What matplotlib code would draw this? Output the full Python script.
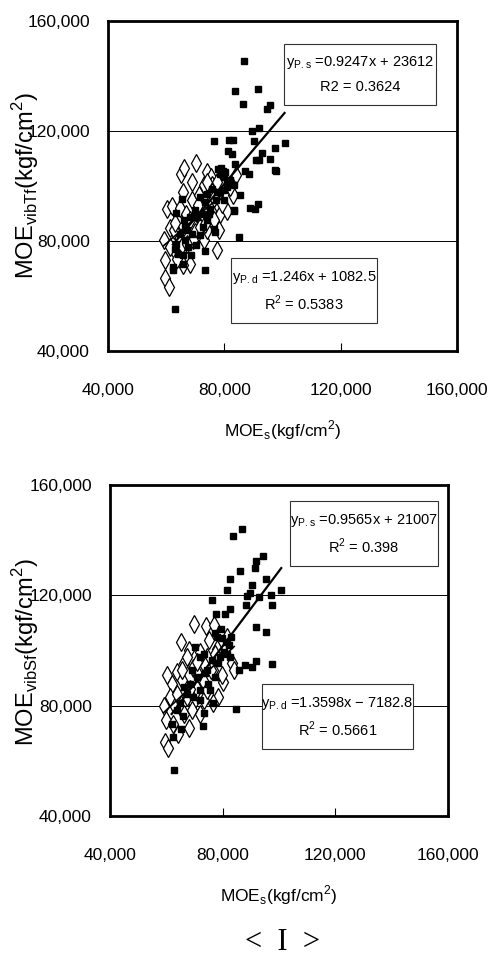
import matplotlib.pyplot as plt
from matplotlib.patches import Rectangle

# ---- datos: MOE estático (x) vs MOE vibración (y), kgf/cm2 ----
# gráfico superior (MOE vibTf)
tf_s_x = [70300, 65100, 66200, 68800, 74000, 75300, 75900, 65900, 68900, 71400,
          73100, 60300, 62100, 64900, 66700, 68100, 70600, 72100, 74600, 78000,
          78600, 80900, 82900, 84000, 82100, 61400, 59100, 59600, 59700, 60900,
          62600, 65400, 68300, 65800, 67400, 70000, 72900, 77500, 78000, 74000,
          76300, 71700, 69200, 64100, 62600, 61400, 63700, 79200, 75800, 77500,
          74000, 63000, 67000, 70800, 73500, 76500]
tf_s_y = [108200, 104500, 106600, 101500, 105100, 103300, 100200, 97800, 94800, 96600,
          100200, 91800, 92700, 92100, 89900, 87500, 89900, 88100, 93600, 92400,
          89900, 90900, 96600, 103900, 99600, 84600, 80300, 73000, 66700, 63300,
          76600, 78400, 71800, 71200, 81500, 83300, 80300, 76600, 83900, 83900,
          87500, 85100, 80300, 82100, 83900, 77800, 73600, 93600, 97800, 101500,
          101500, 86500, 79000, 93000, 86000, 95500]

tf_d_x = [86800, 83800, 91600, 86300, 95800, 94700, 89600, 91900, 76400, 81700,
          82900, 90300, 100700, 97300, 81300, 82600, 92900, 91000, 91900, 95600,
          83700, 77900, 78900, 79700, 80300, 87200, 88400, 97500, 97900, 80900,
          85500, 88700, 90400, 91700, 83200, 85000, 65400, 63500, 73200, 73300,
          63100, 62300, 66000, 67200, 68900, 70600, 72300, 74000, 75800, 77200,
          78600, 79800, 71500, 69800, 68100, 66400, 64600, 62900, 64100, 65800,
          68600, 65700, 62500, 74000, 76300, 76900, 71700, 73500, 75200, 77500,
          79800, 80900, 82100, 83200, 78600, 74600, 66400, 63500, 67500, 70400,
          72700, 79800, 83200]
tf_d_y = [145500, 134500, 135200, 129700, 129600, 127900, 120100, 121200, 116500, 116700,
          116900, 116500, 115800, 113900, 112700, 111500, 112100, 109600, 109300, 109700,
          107900, 106300, 106600, 105300, 105100, 105500, 104500, 105900, 105600, 101500,
          96600, 92000, 91500, 93300, 91000, 81300, 95300, 90200, 76400, 69300,
          55400, 69300, 87500, 83900, 82700, 88700, 89900, 97200, 99000, 94800,
          104500, 103300, 96000, 91200, 88700, 85100, 82700, 77200, 75400, 74800,
          74800, 71800, 70600, 87500, 84500, 83300, 82100, 94200, 91800, 97800,
          98400, 99600, 102100, 100200, 97800, 89900, 80300, 79000, 77800, 78400,
          85100, 94800, 91200]

# gráfico inferior (MOE vibSf)
sf_s_x = [70000, 74000, 77100, 65100, 75300, 68100, 66100, 72000, 77900, 81500,
          83200, 80000, 76700, 74300, 60100, 61900, 63700, 65500, 69600, 70800,
          73200, 75900, 78500, 76700, 73200, 69600, 67200, 62500, 61300, 59000,
          59800, 59500, 60500, 62500, 64300, 68100, 66100, 69000, 72000, 74300,
          79700, 84100, 77300, 67200, 65500, 68400, 63700, 70800, 71000, 73800]
sf_s_y = [109600, 108800, 109200, 103100, 103700, 100100, 95300, 99500, 100700, 105000,
          95300, 88600, 92900, 97700, 91000, 88000, 92300, 89200, 93500, 86200,
          88600, 92900, 83200, 80800, 82000, 80800, 83200, 80800, 83200, 80000,
          74700, 66900, 64700, 73500, 69900, 71900, 77100, 78300, 77100, 85600,
          91000, 92900, 98900, 97700, 92900, 86200, 84400, 91700, 95800, 94500]

sf_d_x = [86700, 83800, 94400, 91900, 91600, 86200, 82600, 95300, 90400, 100800,
          81600, 89700, 92800, 97100, 88600, 76200, 97500, 88300, 82600, 81000,
          77700, 91900, 95400, 79300, 77300, 78100, 79700, 81100, 82200, 83100,
          91800, 97400, 87900, 90300, 85700, 84700, 72900, 73400, 65800, 62700,
          62500, 65200, 61900, 76700, 72000, 81500, 79100, 74300, 77300, 74900,
          70800, 68400, 66100, 67200, 69600, 72000, 64900, 63700, 72000, 73200,
          76100, 80300, 82600, 73800, 70200, 78500, 75500, 69000]
sf_d_y = [143900, 141600, 134400, 132500, 130000, 128800, 125800, 125800, 123700, 122100,
          122100, 120900, 119500, 120200, 119700, 118400, 116600, 116600, 114900, 113100,
          113400, 108600, 106700, 107900, 106200, 105000, 104400, 103100, 102100, 105000,
          96200, 95200, 94700, 94100, 92900, 78700, 72500, 77400, 76200, 56600,
          68700, 71500, 73500, 80800, 82000, 98900, 97700, 92900, 90400, 88000,
          90400, 88000, 86800, 84400, 83200, 85600, 80800, 78300, 97700, 98900,
          96500, 99500, 97700, 91700, 101300, 95300, 85600, 92900]

# ecuaciones de ajuste
tf_s_fit = (0.9247, 23612)
tf_d_fit = (1.246, 1082.5)
sf_s_fit = (0.9565, 21007)
sf_d_fit = (1.3598, -7182.8)

ticks = [40000, 80000, 120000, 160000]
tick_labels = ['40,000', '80,000', '120,000', '160,000']

font = 'Liberation Sans'

fig = plt.figure(figsize=(4.93, 9.58), dpi=100)


def panel(rect, s_x, s_y, d_x, d_y, s_fit, d_fit, txt_s, txt_d, box_s, box_d):
    ax = fig.add_axes(rect)
    ax.set_xlim(40000, 160000)
    ax.set_ylim(40000, 160000)
    for y in ticks[1:-1]:
        ax.axhline(y, color='black', lw=0.7, zorder=1)

    ax.plot(s_x, s_y, linestyle='none', marker='d', ms=9, mfc='white',
            mec='black', mew=0.9, zorder=2)
    ax.plot(d_x, d_y, linestyle='none', marker='s', ms=4, mfc='black',
            mec='black', zorder=3)

    # rectas de regresión sobre el rango de cada serie
    xs = [min(s_x), max(s_x)]
    ax.plot(xs, [s_fit[0] * v + s_fit[1] for v in xs], color='black', lw=1.2, zorder=4)
    xd = [min(d_x), max(d_x)]
    ax.plot(xd, [d_fit[0] * v + d_fit[1] for v in xd], color='black', lw=1.6, zorder=4)

    for (x0, y0, x1, y1), lines in ((box_s, txt_s), (box_d, txt_d)):
        ax.add_patch(Rectangle((x0, y0), x1 - x0, y1 - y0, transform=ax.transAxes,
                               facecolor='white', edgecolor='#333333', lw=0.8, zorder=5))
        ax.text((x0 + x1) / 2, y0 + (y1 - y0) * 0.70, lines[0], transform=ax.transAxes,
                ha='center', va='center', fontsize=10.5, family=font, zorder=6)
        ax.text((x0 + x1) / 2, y0 + (y1 - y0) * 0.30, lines[1], transform=ax.transAxes,
                ha='center', va='center', fontsize=10.5, family=font, zorder=6)

    ax.set_xticks(ticks)
    ax.set_xticklabels(tick_labels, family=font, fontsize=12.5)
    ax.set_yticks(ticks)
    ax.set_yticklabels(tick_labels, family=font, fontsize=12.5)
    ax.tick_params(axis='x', direction='in', length=6, width=0.8, pad=23)
    ax.tick_params(axis='y', length=0, pad=13)
    for sp in ax.spines.values():
        sp.set_linewidth(2)
    return ax


panel([0.2191, 0.6336, 0.7079, 0.3445], tf_s_x, tf_s_y, tf_d_x, tf_d_y,
      tf_s_fit, tf_d_fit,
      (r'y$_{\mathregular{P.s}}$ =0.9247x + 23612', 'R2 = 0.3624'),
      (r'y$_{\mathregular{P.d}}$ =1.246x + 1082.5', r'R$^{\mathregular{2}}$ = 0.5383'),
      (0.504, 0.745, 0.940, 0.930), (0.352, 0.085, 0.771, 0.282))

panel([0.2231, 0.1482, 0.6856, 0.3455], sf_s_x, sf_s_y, sf_d_x, sf_d_y,
      sf_s_fit, sf_d_fit,
      (r'y$_{\mathregular{P.s}}$ =0.9565x + 21007', r'R$^{\mathregular{2}}$ = 0.398'),
      (r'y$_{\mathregular{P.d}}$ =1.3598x − 7182.8', r'R$^{\mathregular{2}}$ = 0.5661'),
      (0.533, 0.755, 0.970, 0.952), (0.450, 0.202, 0.896, 0.399))

fig.text(0.051, 0.806, r'MOE$_{\mathregular{vibTf}}$(kgf/cm$^{\mathregular{2}}$)',
         rotation=90, ha='center', va='center', fontsize=17, family=font)
fig.text(0.051, 0.319, r'MOE$_{\mathregular{vibSf}}$(kgf/cm$^{\mathregular{2}}$)',
         rotation=90, ha='center', va='center', fontsize=17, family=font)
fig.text(0.574, 0.551, r'MOE$_{\mathregular{s}}$(kgf/cm$^{\mathregular{2}}$)',
         ha='center', va='center', fontsize=12.5, family=font)
fig.text(0.566, 0.066, r'MOE$_{\mathregular{s}}$(kgf/cm$^{\mathregular{2}}$)',
         ha='center', va='center', fontsize=12.5, family=font)
fig.text(0.574, 0.016, '<  I  >', ha='center', va='center', fontsize=22,
         family='Liberation Serif')

fig.savefig('out.png', dpi=100)
